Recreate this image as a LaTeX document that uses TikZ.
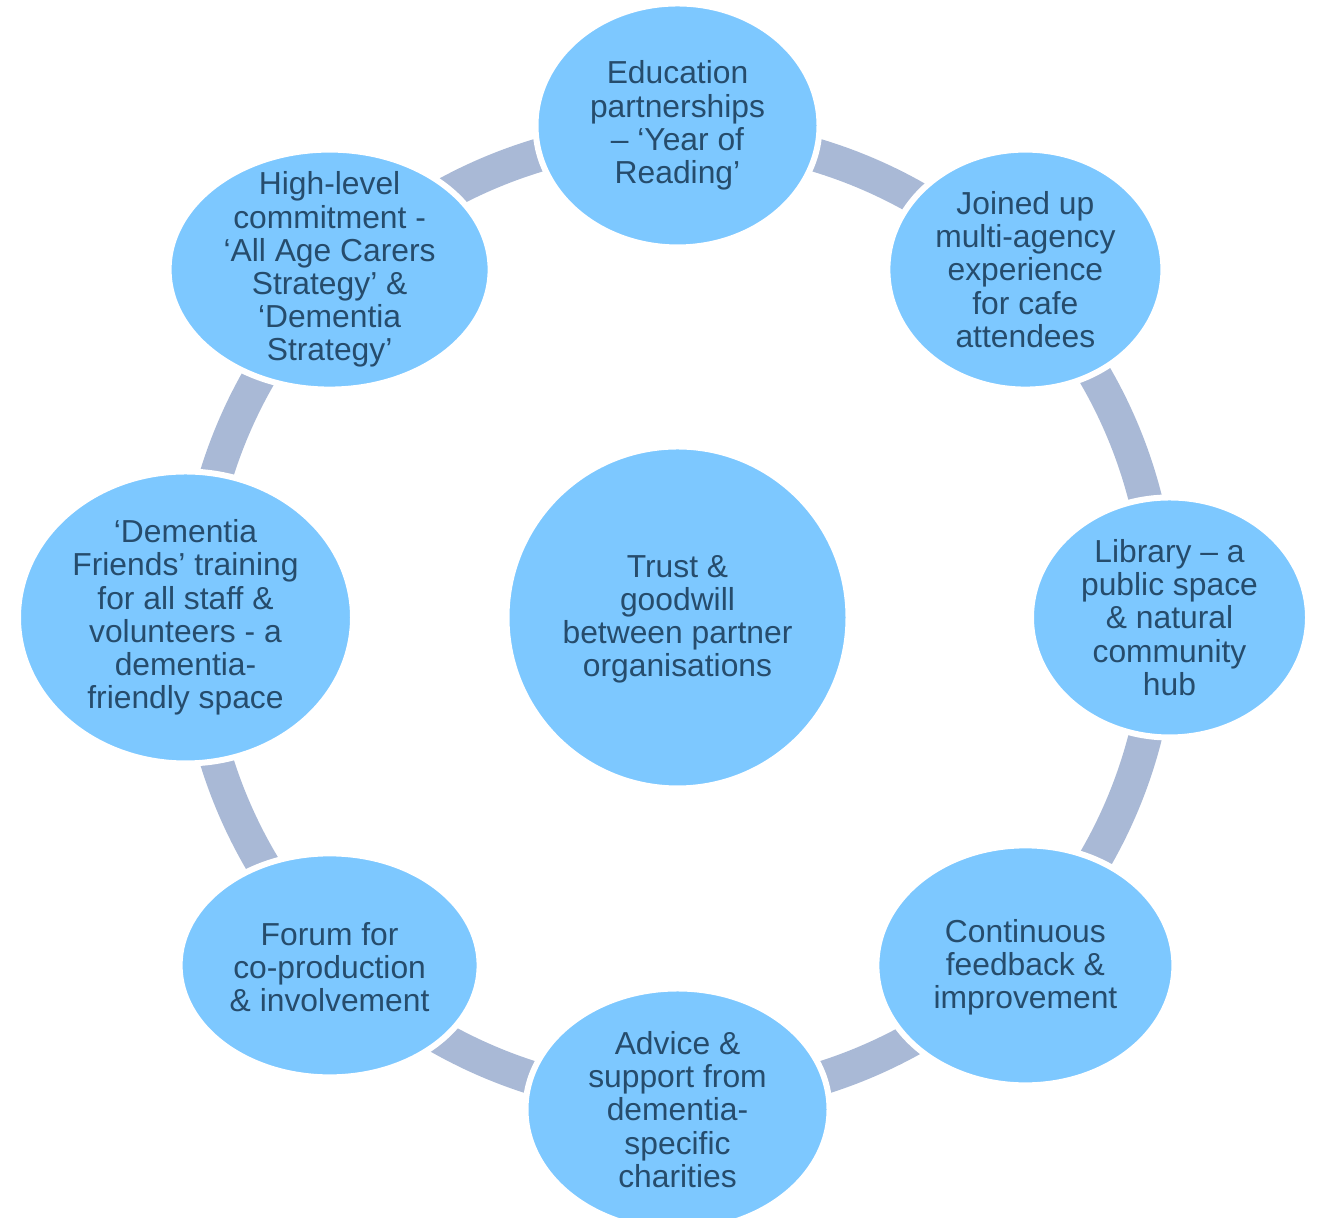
\documentclass[tikz,border=0pt]{standalone}
\usepackage{fontspec}
\setmainfont{Liberation Sans}
\usetikzlibrary{shapes.geometric}
\definecolor{bubblefill}{RGB}{125,200,255}
\definecolor{ringcol}{RGB}{169,185,214}
\definecolor{inkcol}{RGB}{38,76,108}
\begin{document}
\begin{tikzpicture}[x=0.5pt,y=0.5pt,
  bubble/.style={ellipse, fill=bubblefill, draw=white, line width=3pt, inner sep=0pt},
  hubstyle/.style={circle, fill=bubblefill, draw=white, line width=3pt, inner sep=0pt, minimum size=171pt},
  caption/.style={align=center, text=inkcol, inner sep=0pt,
    font=\fontsize{15.9pt}{16.6pt}\selectfont},
  link/.style={draw=ringcol, line width=16.75pt}]
\useasboundingbox (0,0) rectangle (1317,1218);
\clip (0,0) rectangle (1317,1218);

% centre of the cycle
\coordinate (hubc) at (677.5,600.5);

% ring segments joining neighbouring bubbles
\foreach \a in {90,45,0,-45,-90,-135,-180,-225}
  \draw[link] (hubc) ++(\a:241.35pt) arc[start angle=\a, end angle=\a-45, radius=241.35pt];

% central circle
\node[hubstyle] (hub) at (hubc) {};
\node[caption] (thub) at ([yshift=-1pt]hub) {Trust \&\\goodwill\\between partner\\organisations};

% outer bubbles
\path (hubc) ++(90:246pt)   node[bubble, minimum width=142pt,   minimum height=122pt] (n1) {};
\path (hubc) ++(45:246pt)   node[bubble, minimum width=138pt,   minimum height=120pt] (n2) {};
\path (hubc) ++(0:246pt)    node[bubble, minimum width=138.5pt, minimum height=120pt] (n3) {};
\path (hubc) ++(-45:246pt)  node[bubble, minimum width=149pt,   minimum height=120pt] (n4) {};
\path (hubc) ++(-90:246pt)  node[bubble, minimum width=152pt,   minimum height=121pt] (n5) {};
\path (hubc) ++(-135:246pt) node[bubble, minimum width=150pt,   minimum height=112pt] (n6) {};
\path (hubc) ++(180:246pt)  node[bubble, minimum width=167.5pt, minimum height=146pt] (n7) {};
\path (hubc) ++(135:246pt)  node[bubble, minimum width=161pt,   minimum height=120pt] (n8) {};

% bubble texts
\node[caption] (t1) at (n1) {Education\\partnerships\\– ‘Year of\\Reading’};
\node[caption] (t2) at (n2) {Joined up\\multi-agency\\experience\\for cafe\\attendees};
\node[caption] (t3) at (n3) {Library – a\\public space\\\& natural\\community\\hub};
\node[caption] (t4) at ([yshift=-1pt]n4) {Continuous\\feedback \&\\improvement};
\node[caption] (t5) at (n5) {Advice \&\\support from\\dementia-\\specific\\charities};
\node[caption] (t6) at ([yshift=-1pt]n6) {Forum for\\co-production\\\& involvement};
\node[caption] (t7) at (n7) {‘Dementia\\Friends’ training\\for all staff \&\\volunteers - a\\dementia-\\friendly space};
\node[caption] (t8) at (n8) {High-level\\commitment -\\‘All Age Carers\\Strategy’ \&\\‘Dementia\\Strategy’};
\end{tikzpicture}
\end{document}
